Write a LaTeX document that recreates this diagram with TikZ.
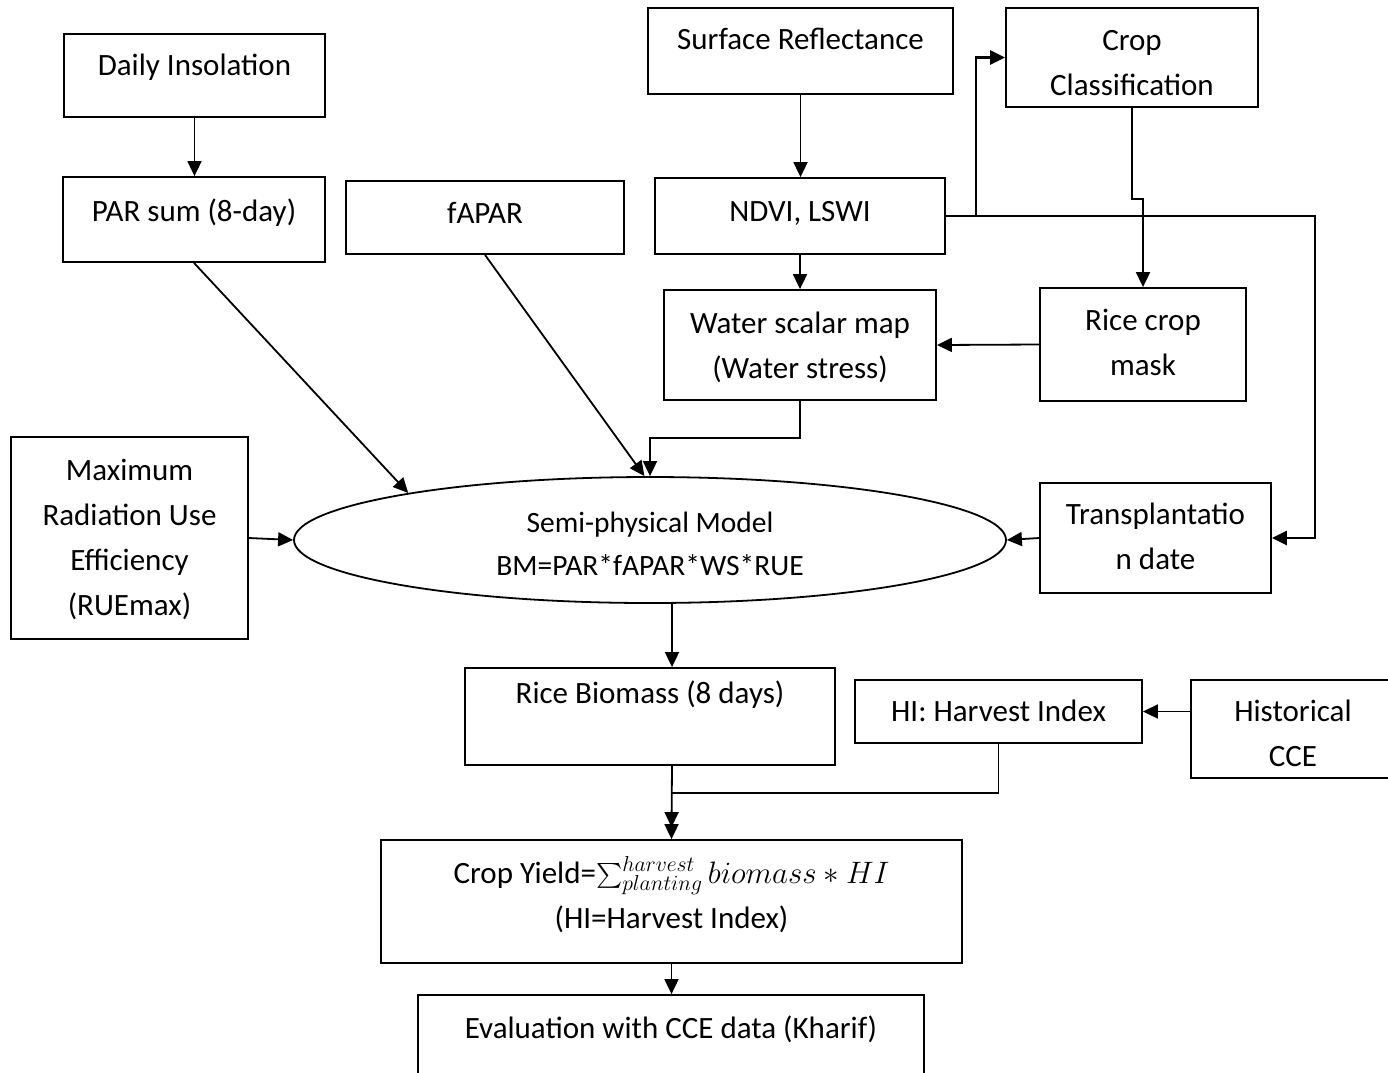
\RequirePackage{fix-cm}
\documentclass[tikz,border=0pt]{standalone}
\usepackage{exscale}
\usepackage{fontspec}
\setmainfont{Carlito}
\usetikzlibrary{arrows.meta,shapes.geometric}

\begin{document}
\begin{tikzpicture}[x=1pt,y=-1pt]
\tikzstyle{every node}+=[inner sep=0pt]
\tikzstyle{box}=[draw, line width=1.8pt, rectangle]
\tikzstyle{txt}=[anchor=north, align=center, font=\fontsize{31}{45}\selectfont]
\tikzstyle{arr}=[line width=1.8pt, -{Triangle[length=15pt,width=14pt]}]
\tikzstyle{route}=[line width=2.6pt]
\useasboundingbox (0,0) rectangle (1388,1072);

% inputs
\node[box, minimum width=261, minimum height=83] (ins) at (194.5,75.5) {};
\node[txt] (ins-t) at (194.5,43.5) {\strut Daily Insolation};
\node[box, minimum width=262, minimum height=85] (par) at (194,219.5) {};
\node[txt] (par-t) at (194,189.5) {\strut PAR sum (8-day)};
\node[box, minimum width=278, minimum height=73] (fap) at (485,217.5) {};
\node[txt] (fap-t) at (485,191.5) {\strut fAPAR};
\node[box, minimum width=305, minimum height=86] (sr) at (800.5,51) {};
\node[txt] (sr-t) at (800.5,17.5) {\strut Surface Reflectance};
\node[box, minimum width=252, minimum height=99] (cc) at (1132,57.5) {};
\node[txt] (cc-t) at (1132,18.5) {\strut Crop\\Classification};
\node[box, minimum width=290, minimum height=76] (ndvi) at (800,216) {};
\node[txt] (ndvi-t) at (800,189.5) {\strut NDVI, LSWI};
\node[box, minimum width=272, minimum height=110] (wsm) at (800,345) {};
\node[txt] (wsm-t) at (800,301.5) {\strut Water scalar map\\(Water stress)};
\node[box, minimum width=206, minimum height=113] (rcm) at (1143,344.5) {};
\node[txt] (rcm-t) at (1143,298.5) {\strut Rice crop\\mask};
\node[box, minimum width=237, minimum height=202] (rue) at (129.5,538) {};
\node[txt] (rue-t) at (129.5,448.5) {\strut Maximum\\Radiation Use\\Efficiency\\(RUEmax)};
\node[box, minimum width=231, minimum height=110] (tr) at (1155.5,538) {};
\node[txt] (tr-t) at (1155.5,492.5) {\strut Transplantatio\\n date};

% model
\node[draw, ellipse, line width=1.8pt, minimum width=712, minimum height=126] (ell) at (650,540) {};
\node[txt, font=\fontsize{29.5}{43}\selectfont] (ell-t) at (650,502.4) {\strut Semi-physical Model\\BM=PAR*fAPAR*WS*RUE};

% outputs
\node[box, minimum width=370, minimum height=97] (bio) at (650,716.5) {};
\node[txt] (bio-t) at (650,671.5) {\strut Rice Biomass (8 days)};
\node[box, minimum width=287, minimum height=63] (hi) at (998.5,711.5) {};
\node[txt] (hi-t) at (998.5,689.5) {\strut HI: Harvest Index};
\node[box, minimum width=204, minimum height=98] (hcce) at (1293,729) {};
\node[txt] (hcce-t) at (1293,689.5) {\strut Historical\\CCE};
\node[box, minimum width=581, minimum height=123] (cy) at (671.5,901.5) {};
\node[txt] (cy-t) at (671.5,851.5) {\strut Crop Yield=$\sum_{planting}^{harvest} biomass \ast HI$\\(HI=Harvest Index)};
\node[box, minimum width=506, minimum height=95] (eval) at (671,1042.5) {};
\node[txt] (eval-t) at (671,1006.5) {\strut Evaluation with CCE data (Kharif)};

% connectors
\draw[arr] (ins.south) -- (ins.south |- par.north);
\draw[arr] (sr.south) -- (sr.south |- ndvi.north);
\draw[arr] (ndvi.south) -- (wsm.north);
\draw[arr, route] (ndvi.east) -- ++(30,0) |- (cc.west);
\coordinate (tr-in) at (1315,216);
\draw[arr, route] (ndvi.east) -- (tr-in) |- (tr.east);
\draw[arr] (cc.south) -- ++(0,91) -| (rcm.north);
\draw[arr] (rcm.west) -- (wsm.east);
\draw[arr] (wsm.south) -- ++(0,37) -| (ell.north);
\draw[arr] (par.south) -- (ell.169);
\draw[arr] (fap.south) -- (ell.95);
\draw[arr] (rue.east) -- (ell.west);
\draw[arr] (tr.west) -- (ell.east);
\draw[arr] ([xshift=22pt]ell.south) -- ([xshift=22pt]bio.north);
\draw[arr] (hi.east -| hcce.west) -- (hi.east);
\draw[arr] ([xshift=22pt]bio.south) -- ([yshift=12pt]cy.north);
\draw[arr] (hi.south) -- ++(0,49) -| (cy.north);
\draw[arr] (cy.south) -- (cy.south |- eval.north);
\end{tikzpicture}
\end{document}
